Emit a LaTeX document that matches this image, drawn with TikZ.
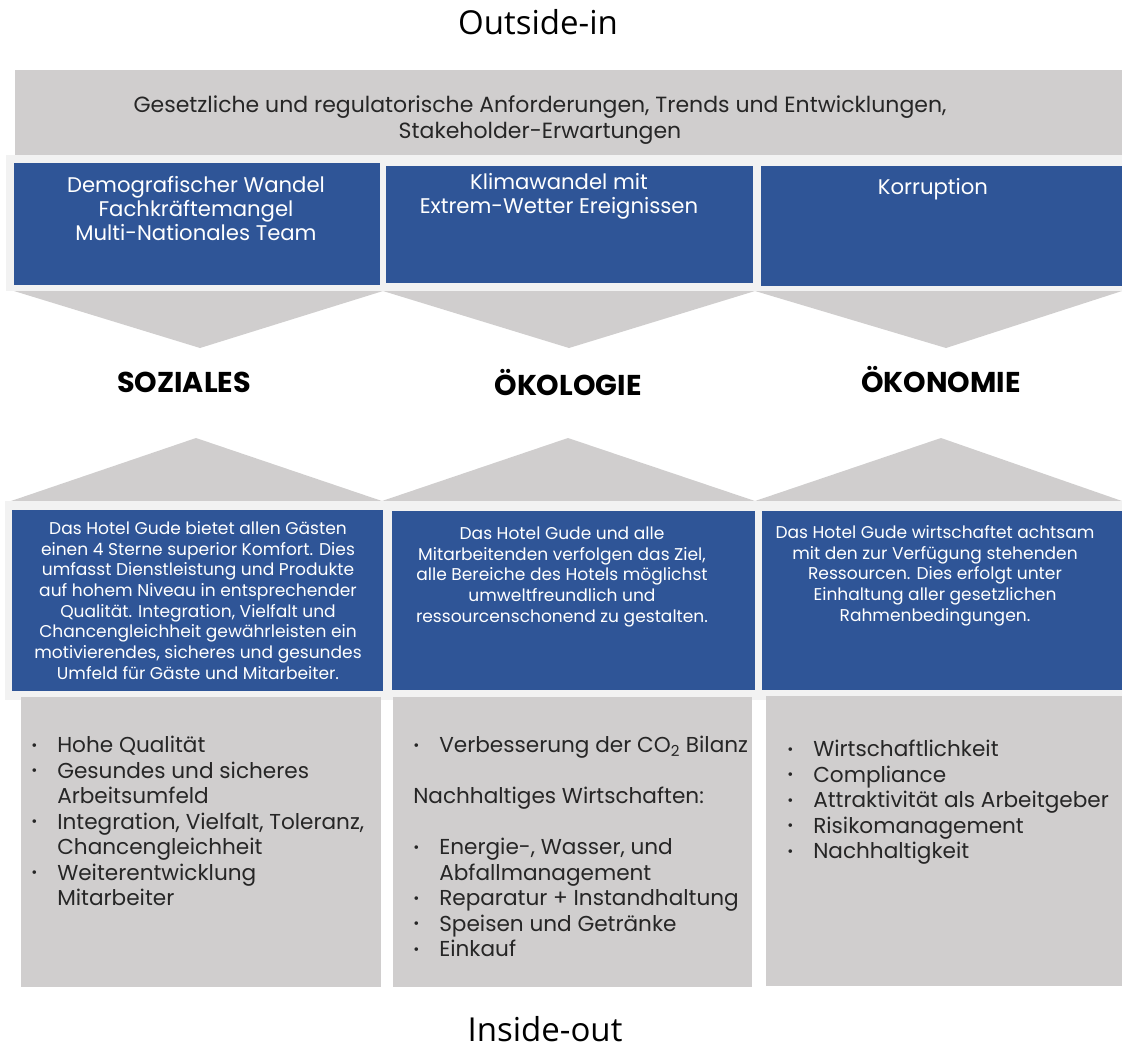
\documentclass[tikz,border=0pt]{standalone}
\usepackage{fontspec}
\setmainfont{Poppins}
\newfontfamily\segoe{Open Sans}
\definecolor{gudeblue}{HTML}{2F5597}
\definecolor{gudegray}{HTML}{D0CECE}
\definecolor{gudestrip}{HTML}{F2F2F2}
\definecolor{gudetext}{HTML}{262626}
% first line strut, so that north = first baseline - 1em
\newcommand{\firstline}{\rule{0pt}{1em}}
\newcommand{\bpt}{\makebox[19.5pt][l]{\raisebox{1.8pt}{\fontsize{11}{11}\selectfont\textbullet}}}
\newcommand{\bind}{\hspace*{19.5pt}}

\begin{document}
\begin{tikzpicture}[x=0.75pt,y=0.75pt,yscale=-1,xscale=1,
  sidetitle/.style={anchor=base,inner sep=0pt,font=\segoe\fontsize{24.75}{30}\selectfont},
  bannertext/.style={anchor=north,inner sep=0pt,align=center,text=gudetext,font=\fontsize{16.5}{19.5}\selectfont},
  topictext/.style={anchor=north,inner sep=0pt,align=center,text=white,font=\fontsize{15.9}{18}\selectfont},
  pillar/.style={anchor=base,inner sep=0pt,font=\bfseries\fontsize{21.5}{24}\selectfont},
  desctext/.style={anchor=north,inner sep=0pt,align=center,text=white,font=\fontsize{12.8}{15.5}\selectfont},
  listtext/.style={anchor=north west,inner sep=0pt,align=left,text=gudetext,font=\fontsize{16.2}{19.1}\selectfont}]
\useasboundingbox (0,0) rectangle (1122,1047);

%Shape: Rectangle [banner]
\fill[gudegray] (15,70) rectangle (1122,155);
%Shape: Rectangle [strip top]
\fill[gudestrip] (6,155) rectangle (1122,291);
%Shape: Rectangle [topics]
\fill[gudeblue] (14,163) rectangle (380,285);
\fill[gudeblue] (386,166) rectangle (753,283);
\fill[gudeblue] (761,166) rectangle (1122,286);

%Shape: Triangle [down]
\fill[gudegray] (14,291) -- (383,291) -- (200,348) -- cycle;
\fill[gudegray] (383,291) -- (755,291) -- (569,348) -- cycle;
\fill[gudegray] (755,291) -- (1122,291) -- (946,348) -- cycle;
%Shape: Triangle [up]
\fill[gudegray] (11,501) -- (382,501) -- (196,438) -- cycle;
\fill[gudegray] (382,501) -- (755,501) -- (568,438) -- cycle;
\fill[gudegray] (755,501) -- (1122,501) -- (941,438) -- cycle;

%Shape: Rectangle [strip bottom]
\fill[gudestrip] (5,501) rectangle (1122,700);
%Shape: Rectangle [descriptions]
\fill[gudeblue] (12,510) rectangle (383,691);
\fill[gudeblue] (392,511) rectangle (755,690);
\fill[gudeblue] (762,511) rectangle (1122,690);
%Shape: Rectangle [lists]
\fill[gudegray] (21,697) rectangle (381,987);
\fill[gudegray] (393,697) rectangle (752,987);
\fill[gudegray] (766,696) rectangle (1122,986);

% Text Node
\draw (538,34) node [sidetitle] (outsidein) {Outside-in};
% Text Node
\draw (540,90) node [bannertext] (banner) {\firstline Gesetzliche und regulatorische Anforderungen, Trends und Entwicklungen,\\Stakeholder-Erwartungen};

% Text Node
\draw (196,171) node [topictext] (demo) {\firstline Demografischer Wandel\\Fachkräftemangel\\Multi-Nationales Team};
% Text Node
\draw (559,168) node [topictext] (klima) {\firstline Klimawandel mit\\Extrem-Wetter Ereignissen};
% Text Node
\draw (933,173) node [topictext] (korr) {\firstline Korruption};

% Text Node
\draw (184,392) node [pillar] (soz) {SOZIALES};
% Text Node
\draw (568,395) node [pillar] (oeko) {ÖKOLOGIE};
% Text Node
\draw (941,392) node [pillar] (oekon) {ÖKONOMIE};

% Text Node
\draw (198,517) node [desctext] (dsoz) {\firstline Das Hotel Gude bietet allen Gästen\\einen 4 Sterne superior Komfort. Dies\\umfasst Dienstleistung und Produkte\\auf hohem Niveau in entsprechender\\Qualität. Integration, Vielfalt und\\Chancengleichheit gewährleisten ein\\motivierendes, sicheres und gesundes\\Umfeld für Gäste und Mitarbeiter.};
% Text Node
\draw (562,522) node [desctext] (doeko) {\firstline Das Hotel Gude und alle\\Mitarbeitenden verfolgen das Ziel,\\alle Bereiche des Hotels möglichst\\umweltfreundlich und\\ressourcenschonend zu gestalten.};
% Text Node
\draw (935,521) node [desctext] (doekon) {\firstline Das Hotel Gude wirtschaftet achtsam\\mit den zur Verfügung stehenden\\Ressourcen. Dies erfolgt unter\\Einhaltung aller gesetzlichen\\Rahmenbedingungen.};

% Text Node
\draw (31,731) node [listtext] (lsoz) {\firstline\bpt Hohe Qualität\\\bpt Gesundes und sicheres\\\bind Arbeitsumfeld\\\bpt Integration, Vielfalt, Toleranz,\\\bind Chancengleichheit\\\bpt Weiterentwicklung\\\bind Mitarbeiter};
% Text Node
\draw (413,731) node [listtext] (loeko) {\firstline\bpt Verbesserung der CO\textsubscript{2} Bilanz\\[19.1pt]Nachhaltiges Wirtschaften:\\[19.1pt]\bpt Energie-, Wasser, und\\\bind Abfallmanagement\\\bpt Reparatur + Instandhaltung\\\bpt Speisen und Getränke\\\bpt Einkauf};
% Text Node
\draw (787,735) node [listtext] (loekon) {\firstline\bpt Wirtschaftlichkeit\\\bpt Compliance\\\bpt Attraktivität als Arbeitgeber\\\bpt Risikomanagement\\\bpt Nachhaltigkeit};

% Text Node
\draw (545,1041) node [sidetitle] (insideout) {Inside-out};
\end{tikzpicture}
\end{document}
